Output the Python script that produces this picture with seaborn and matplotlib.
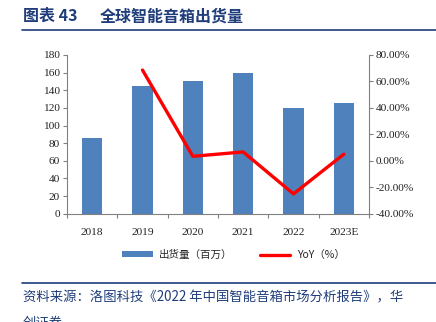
import numpy as np
import pandas as pd
import matplotlib
matplotlib.use("Agg")
import matplotlib.pyplot as plt
import seaborn as sns
from matplotlib.patches import Patch
from matplotlib.lines import Line2D
from matplotlib.ticker import FixedLocator

sns.set_theme(style="white")
plt.rcParams['font.family'] = ['Liberation Serif', 'Noto Sans CJK SC', 'DejaVu Sans']

years = ["2018", "2019", "2020", "2021", "2022", "2023E"]
shipments = [86, 145, 150, 160, 120, 126]          # 出货量（百万）
yoy_years = ["2019", "2020", "2021", "2022", "2023E"]
yoy = [68.6, 3.4, 6.7, -25.0, 5.0]                  # YoY（%）

left_ticks = [0, 20, 40, 60, 80, 100, 120, 140, 160, 180]
right_ticks = [-40, -20, 0, 20, 40, 60, 80]

title_color = "#1F3D7A"
bar_color = "#4F81BD"
line_color = "#FF0000"
tick_fs = 8.2

fig = plt.figure(figsize=(4.36, 3.22), dpi=100)
ax = fig.add_axes([0.1537, 0.3363, 0.6926, 0.4929])

df = pd.DataFrame({"year": years, "shipments": shipments})
sns.barplot(data=df, x="year", y="shipments", color=bar_color, width=0.4,
            saturation=1, ax=ax, edgecolor="none")
ax.set_xlim(-0.5, len(years) - 0.5)
ax.set_ylim(0, 180)
ax.set_yticks(left_ticks)
ax.set_xlabel("")
ax.set_ylabel("")

ax2 = ax.twinx()
pos = [years.index(y) for y in yoy_years]
sns.lineplot(x=pos, y=yoy, ax=ax2, color=line_color, linewidth=2.4)
ax2.set_ylim(-40, 80)
ax2.set_yticks(right_ticks)
ax2.set_yticklabels([f"{v:.2f}%" for v in right_ticks])
ax2.set_xlim(-0.5, len(years) - 0.5)

for a in (ax, ax2):
    a.spines['top'].set_visible(False)
    for s in a.spines.values():
        s.set_color("#808080")
        s.set_linewidth(0.8)
ax.spines['right'].set_visible(False)
ax2.spines['left'].set_visible(False)
ax2.spines['bottom'].set_visible(False)

ax.tick_params(axis='y', which='major', left=True, length=3, width=0.8,
               color="#808080", labelsize=tick_fs, pad=2, labelcolor="#222222")
ax.tick_params(axis='x', which='major', bottom=False, labelsize=tick_fs, pad=4,
               labelcolor="#222222")
ax.xaxis.set_minor_locator(FixedLocator(np.arange(-0.5, len(years), 1.0)))
ax.tick_params(axis='x', which='minor', bottom=True, length=3, width=0.8,
               color="#808080")
ax2.tick_params(axis='y', right=True, length=3, width=0.8, color="#808080",
                labelsize=tick_fs, pad=2, labelcolor="#222222")
ax.grid(False)
ax2.grid(False)

# legend below the axes
handles = [Patch(facecolor=bar_color, edgecolor="none"),
           Line2D([0], [0], color=line_color, linewidth=2.4)]
labels = ["出货量（百万）", "YoY（%）"]
fig.legend(handles, labels, loc="center", bbox_to_anchor=(0.535, 0.208), ncol=2,
           frameon=False, handlelength=2.9, handleheight=0.5,
           columnspacing=2.6, handletextpad=0.6,
           prop={'family': ['Noto Sans CJK SC', 'Liberation Serif'], 'size': 7.6})

# title and rules
fig.text(0.053, 0.950, "图表 43", color=title_color,
         fontsize=11.5, fontweight="bold", va="center", ha="left",
         family=['Noto Sans CJK SC', 'DejaVu Sans'])
fig.text(0.229, 0.950, "全球智能音箱出货量", color=title_color,
         fontsize=11.5, fontweight="bold", va="center", ha="left",
         family=['Noto Sans CJK SC', 'DejaVu Sans'])
fig.add_artist(Line2D([0.05, 1.0], [0.907, 0.907], color=title_color,
                      linewidth=1.2, transform=fig.transFigure))
fig.add_artist(Line2D([0.05, 1.0], [0.121, 0.121], color=title_color,
                      linewidth=1.2, transform=fig.transFigure))
fig.text(0.053, 0.075,
         "资料来源：洛图科技《2022 年中国智能音箱市场分析报告》，华",
         color=title_color, fontsize=9.6, style="italic", va="center", ha="left",
         family=['Noto Sans CJK SC', 'DejaVu Sans'])
fig.text(0.053, -0.002, "创证券", color=title_color, fontsize=9.6, style="italic",
         va="center", ha="left", family=['Noto Sans CJK SC', 'DejaVu Sans'])

fig.savefig("out.png", dpi=100)
